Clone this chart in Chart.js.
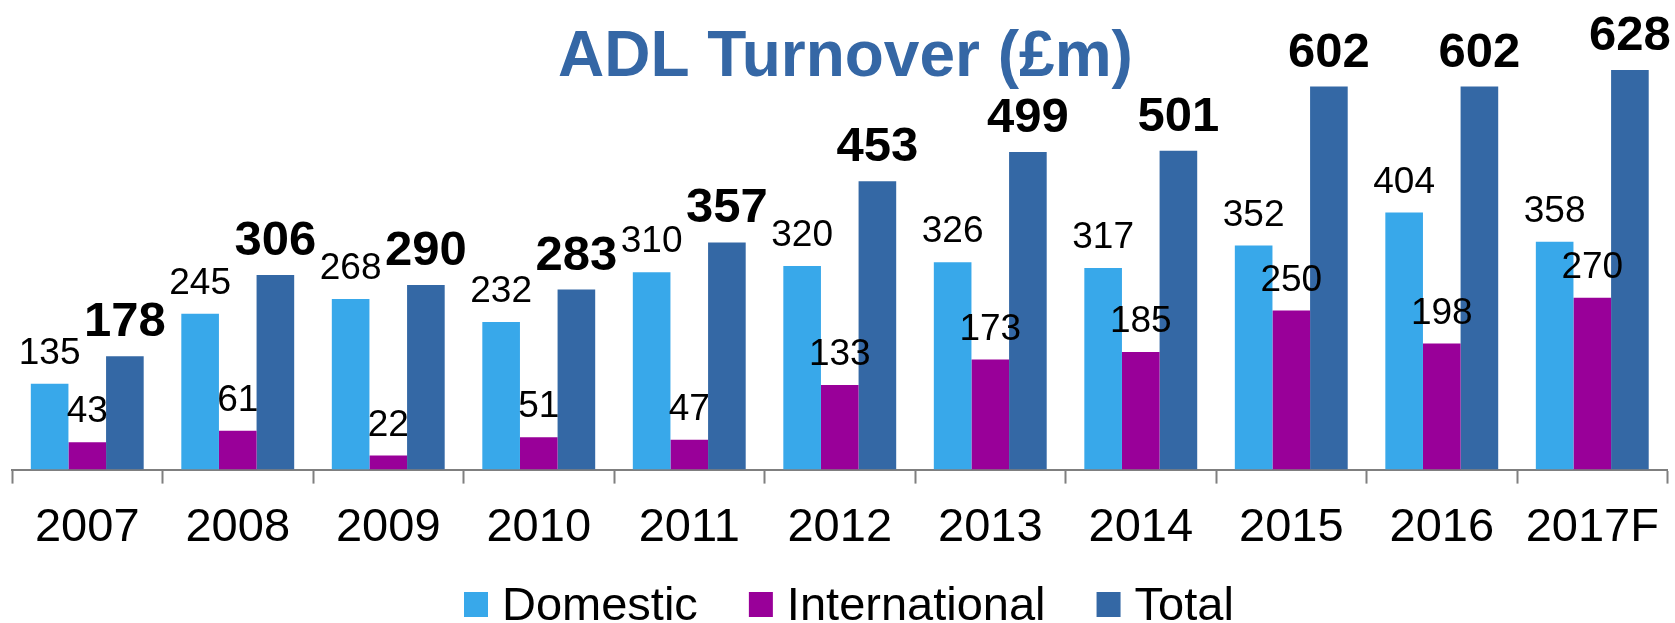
<!DOCTYPE html>
<html>
<head>
<meta charset="utf-8">
<title>ADL Turnover</title>
<script src="https://cdn.jsdelivr.net/npm/chart.js@4/dist/chart.umd.min.js"></script>
<style>
    html, body { margin: 0; padding: 0; background: #fff; }
    #wrap { width: 1675px; height: 623px; position: relative; }
</style>
</head>
<body>
<div id="wrap"><canvas id="turnoverChart"></canvas></div>
<script>
const years = ['2007', '2008', '2009', '2010', '2011', '2012', '2013', '2014', '2015', '2016', '2017F'];
const domestic = [135, 245, 268, 232, 310, 320, 326, 317, 352, 404, 358];
const international = [43, 61, 22, 51, 47, 133, 173, 185, 250, 198, 270];
const total = [178, 306, 290, 283, 357, 453, 499, 501, 602, 602, 628];

const chartTitle = 'ADL Turnover (£m)';
const FONT = '"Liberation Sans", Arial, sans-serif';

// value labels above each bar
const valueLabels = {
    id: 'valueLabels',
    afterDatasetsDraw(chart) {
        const ctx = chart.ctx;
        ctx.save();
        ctx.fillStyle = '#000';
        ctx.textAlign = 'center';
        ctx.textBaseline = 'alphabetic';
        chart.data.datasets.forEach((ds, i) => {
            const meta = chart.getDatasetMeta(i);
            ctx.font = ds.labelFont;
            meta.data.forEach((bar, j) => {
                ctx.fillText(String(ds.data[j]), bar.x, bar.y - 20);
            });
        });
        ctx.restore();
    }
};

// title sits over the plot area, a bit left of centre
const titleText = {
    id: 'titleText',
    afterDraw(chart) {
        const ctx = chart.ctx;
        ctx.save();
        ctx.font = 'bold 64px ' + FONT;
        ctx.fillStyle = '#3567A5';
        ctx.textAlign = 'left';
        ctx.textBaseline = 'alphabetic';
        ctx.fillText(chartTitle, 558, 76);
        ctx.restore();
    }
};

// legend under the axis
const bottomLegend = {
    id: 'bottomLegend',
    afterDraw(chart) {
        const ctx = chart.ctx;
        let x = 464;
        ctx.save();
        ctx.font = '47px ' + FONT;
        ctx.textBaseline = 'alphabetic';
        ctx.textAlign = 'left';
        chart.data.datasets.forEach(ds => {
            ctx.fillStyle = ds.backgroundColor;
            ctx.fillRect(x, 592, 24, 25);
            x += 24 + 14;
            ctx.fillStyle = '#000';
            ctx.fillText(ds.label, x, 620);
            x += ctx.measureText(ds.label).width + 51;
        });
        ctx.restore();
    }
};

document.addEventListener('DOMContentLoaded', () => {
    const ctx = document.getElementById('turnoverChart').getContext('2d');

    new Chart(ctx, {
        type: 'bar',
        data: {
            labels: years,
            datasets: [
                {
                    label: 'Domestic',
                    data: domestic,
                    backgroundColor: '#38A8EA',
                    labelFont: '37px ' + FONT
                },
                {
                    label: 'International',
                    data: international,
                    backgroundColor: '#990099',
                    labelFont: '37px ' + FONT
                },
                {
                    label: 'Total',
                    data: total,
                    backgroundColor: '#3468A5',
                    labelFont: 'bold 49px ' + FONT
                }
            ]
        },
        options: {
            responsive: true,
            maintainAspectRatio: false,
            animation: false,
            categoryPercentage: 0.75,
            barPercentage: 1.0,
            layout: {
                padding: { left: 12, right: 2, top: 0, bottom: 51 }
            },
            plugins: {
                legend: { display: false },
                title: { display: false },
                tooltip: { enabled: false }
            },
            scales: {
                x: {
                    offset: true,
                    grid: {
                        display: true,
                        drawOnChartArea: false,
                        drawTicks: true,
                        tickLength: 14,
                        tickWidth: 2,
                        color: '#7f7f7f',
                        offset: true
                    },
                    border: { display: true, color: '#7f7f7f', width: 2 },
                    ticks: {
                        color: '#000',
                        padding: 16,
                        font: { family: FONT, size: 47 },
                        maxRotation: 0,
                        autoSkip: false
                    }
                },
                y: {
                    display: false,
                    min: 0,
                    max: 738
                }
            }
        },
        plugins: [valueLabels, titleText, bottomLegend]
    });
});
</script>
</body>
</html>
